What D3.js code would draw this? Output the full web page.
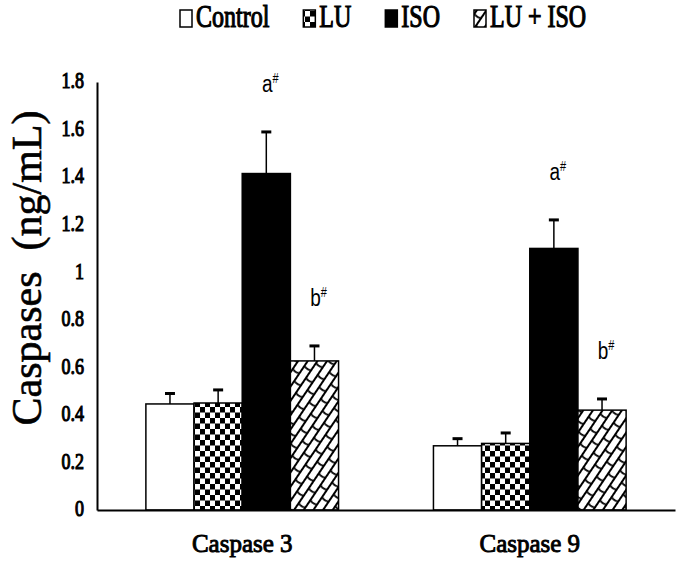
<!DOCTYPE html>
<html>
<head>
<meta charset="utf-8">
<script src="https://cdn.jsdelivr.net/npm/d3@7"></script>
<style>
  body { margin: 0; background: #fff; }
  svg { display: block; }
</style>
</head>
<body>
<div id="chart"></div>
<script>
const categories = ['Caspase 3', 'Caspase 9'];
const groups = ['Control', 'LU', 'ISO', 'LU + ISO'];

const caspase3Means = [0.446, 0.45, 1.415, 0.627];
const caspase3Errors = [0.044, 0.055, 0.175, 0.063];
const caspase9Means = [0.27, 0.28, 1.10, 0.42];
const caspase9Errors = [0.03, 0.044, 0.12, 0.047];

const yTicks = [0, 0.2, 0.4, 0.6, 0.8, 1, 1.2, 1.4, 1.6, 1.8];
const yTickLabels = ['0', '0.2', '0.4', '0.6', '0.8', '1', '1.2', '1.4', '1.6', '1.8'];

// significance marks: [category, group, label]
const marks = [
  ['Caspase 3', 'ISO', 'a'],
  ['Caspase 3', 'LU + ISO', 'b'],
  ['Caspase 9', 'ISO', 'a'],
  ['Caspase 9', 'LU + ISO', 'b'],
];

const means = {'Caspase 3': caspase3Means, 'Caspase 9': caspase9Means};
const errors = {'Caspase 3': caspase3Errors, 'Caspase 9': caspase9Errors};

const data = [];
categories.forEach(c => {
  groups.forEach((g, i) => {
    data.push({cat: c, group: g, mean: means[c][i], err: errors[c][i]});
  });
});

const width = 683;
const height = 575;
const serif = '"Liberation Serif", serif';
const sans = '"Liberation Sans", Arial, sans-serif';

// bold serif falls back to a sans face here, so thicken the regular face instead
const boldish = sel => sel
  .attr('font-family', serif)
  .attr('font-weight', 'normal')
  .attr('fill', '#000')
  .attr('stroke', '#000')
  .attr('stroke-width', 0.9);

const x0 = d3.scaleBand()
  .domain(categories)
  .range([97, 675])
  .paddingInner(0.33)
  .paddingOuter(0.17);

const x1 = d3.scaleBand()
  .domain(groups)
  .range([0, x0.bandwidth()]);

const y = d3.scaleLinear()
  .domain([0, 1.8])
  .range([510, 82]);

const svg = d3.select('#chart').append('svg')
  .attr('width', width)
  .attr('height', height)
  .attr('viewBox', [0, 0, width, height]);

const defs = svg.append('defs');

// checkerboard for LU
const checker = defs.append('pattern')
  .attr('id', 'checker')
  .attr('patternUnits', 'userSpaceOnUse')
  .attr('width', 10)
  .attr('height', 11);
checker.append('rect').attr('width', 10).attr('height', 11).attr('fill', '#fff');
checker.append('rect').attr('width', 5).attr('height', 5.5).attr('fill', '#000');
checker.append('rect').attr('x', 5).attr('y', 5.5).attr('width', 5).attr('height', 5.5).attr('fill', '#000');

// slanted bricks for LU + ISO
const brick = defs.append('pattern')
  .attr('id', 'brick')
  .attr('patternUnits', 'userSpaceOnUse')
  .attr('width', 18)
  .attr('height', 16)
  .attr('patternTransform', 'rotate(-56)');
brick.append('rect').attr('width', 18).attr('height', 16).attr('fill', '#fff');
brick.append('path')
  .attr('d', 'M0,1H18M0,9H18M2,1Q0,5 2,9M11,9Q9,13 11,17')
  .attr('stroke', '#000')
  .attr('stroke-width', 1.8)
  .attr('fill', 'none');

const fills = {
  'Control': '#fff',
  'LU': 'url(#checker)',
  'ISO': '#000',
  'LU + ISO': 'url(#brick)',
};

// bars
svg.append('g')
  .selectAll('rect')
  .data(data)
  .join('rect')
    .attr('x', d => x0(d.cat) + x1(d.group))
    .attr('y', d => y(d.mean))
    .attr('width', x1.bandwidth())
    .attr('height', d => y(0) - y(d.mean))
    .attr('fill', d => fills[d.group])
    .attr('stroke', '#000')
    .attr('stroke-width', 1.5);

// error bars (upper only)
const eb = svg.append('g')
  .selectAll('g')
  .data(data)
  .join('g')
    .attr('transform', d => `translate(${x0(d.cat) + x1(d.group) + x1.bandwidth() / 2},0)`);
eb.append('line')
  .attr('y1', d => y(d.mean))
  .attr('y2', d => y(d.mean + d.err))
  .attr('stroke', '#000')
  .attr('stroke-width', 1.5);
eb.append('line')
  .attr('x1', -5)
  .attr('x2', 5)
  .attr('y1', d => y(d.mean + d.err))
  .attr('y2', d => y(d.mean + d.err))
  .attr('stroke', '#000')
  .attr('stroke-width', 3);

// axes
const yAxis = svg.append('g')
  .attr('transform', `translate(${x0.range()[0]},0)`)
  .call(d3.axisLeft(y)
    .tickValues(yTicks)
    .tickFormat((d, i) => yTickLabels[i])
    .tickSize(0)
    .tickPadding(13));
yAxis.select('.domain').attr('stroke-width', 2);
yAxis.selectAll('text')
  .call(boldish)
  .attr('font-size', 18)
  .attr('transform', 'scale(1,1.3)')
  .attr('dy', '0.25em');

const xAxis = svg.append('g')
  .attr('transform', `translate(0,${y(0)})`)
  .call(d3.axisBottom(x0).tickSize(0).tickPadding(24));
xAxis.select('.domain').attr('stroke-width', 2);
xAxis.selectAll('text')
  .call(boldish)
  .attr('font-size', 25);

// y title
svg.append('text')
  .attr('transform', `translate(41,268) rotate(-90)`)
  .attr('text-anchor', 'middle')
  .attr('font-family', serif)
  .attr('font-size', 42)
  .attr('fill', '#000')
  .attr('stroke', '#000')
  .attr('stroke-width', 0.6)
  .style('white-space', 'pre')
  .text('Caspases  (ng/mL)');

// significance letters
const markG = svg.append('g')
  .selectAll('g')
  .data(marks)
  .join('g')
    .attr('transform', d => {
      const row = data.find(r => r.cat === d[0] && r.group === d[1]);
      const cx = x0(d[0]) + x1(d[1]) + x1.bandwidth() / 2 + 4;
      return `translate(${cx},${y(row.mean + row.err) - 40})`;
    });
const markText = markG.append('text')
  .attr('text-anchor', 'middle')
  .attr('font-family', sans)
  .attr('font-size', 19)
  .attr('fill', '#000')
  .attr('transform', 'scale(1,1.3)');
markText.append('tspan').text(d => d[2]);
markText.append('tspan')
  .attr('font-size', 11)
  .attr('dy', '-0.6em')
  .text('#');

// legend
const legend = svg.append('g');
let lx = 180;
groups.forEach(g => {
  legend.append('rect')
    .attr('x', lx)
    .attr('y', 10)
    .attr('width', 12)
    .attr('height', 17)
    .attr('fill', fills[g])
    .attr('stroke', '#000')
    .attr('stroke-width', 1.5);
  const t = legend.append('g')
    .attr('transform', `translate(${lx + 16},27)`)
    .append('text')
      .call(boldish)
      .attr('font-size', 24)
      .attr('transform', 'scale(1,1.3)')
      .text(g);
  lx += 16 + t.node().getComputedTextLength() + 34;
});
</script>
</body>
</html>
